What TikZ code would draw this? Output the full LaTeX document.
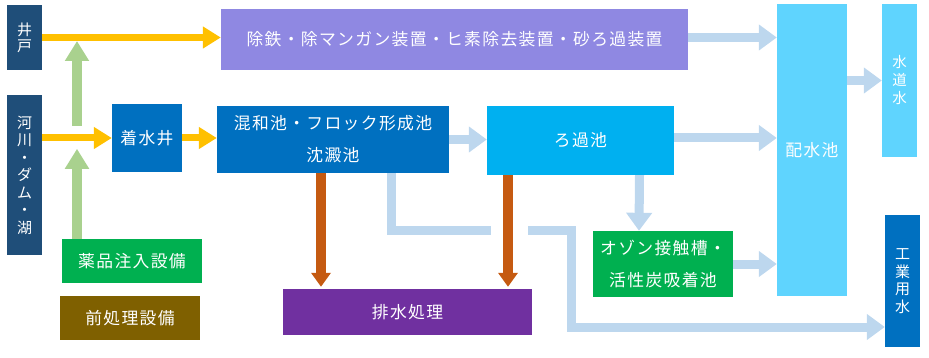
\documentclass[tikz,border=0pt]{standalone}
\usepackage{fontspec}
\setmainfont{Noto Sans CJK JP}[LetterSpace=8]
\usepackage{xcolor}
\usepackage{tikz}
\usetikzlibrary{arrows.meta}

\definecolor{sourceNavy}{HTML}{1F4E79}
\definecolor{ironLavender}{HTML}{8F88E2}
\definecolor{plantBlue}{HTML}{0070C0}
\definecolor{filterCyan}{HTML}{00B0F0}
\definecolor{storeCyan}{HTML}{5FD4FE}
\definecolor{chemGreen}{HTML}{00B050}
\definecolor{preBrown}{HTML}{7F6000}
\definecolor{drainPurple}{HTML}{7030A0}
\definecolor{feedYellow}{HTML}{FFC000}
\definecolor{doseGreen}{HTML}{A9D18E}
\definecolor{flowBlue}{HTML}{BDD7EE}
\definecolor{sludgeOrange}{HTML}{C55A11}

\begin{document}
\begin{tikzpicture}[
    x=1pt,
    y=-1pt,
    font=\fontsize{16.8}{32}\selectfont,
    unit/.style={
        rectangle,
        inner sep=0pt,
        text=white,
        align=center
    },
    stack/.style={
        unit,
        font=\fontsize{15}{17.5}\selectfont
    },
    feed/.style={
        -{Triangle[width=21pt,length=18pt]},
        line width=7pt,
        draw=feedYellow
    },
    dose/.style={
        -{Triangle[width=23pt,length=20pt]},
        line width=10pt,
        draw=doseGreen
    },
    waterflow/.style={
        -{Triangle[width=25pt,length=18pt]},
        line width=9pt,
        draw=flowBlue
    },
    pipe/.style={
        line width=9pt,
        draw=flowBlue
    },
    sludge/.style={
        -{Triangle[width=19pt,length=14pt]},
        line width=10pt,
        draw=sludgeOrange
    }
]
\useasboundingbox (0,0) rectangle (929,358);

% Sources
\node[stack, fill=sourceNavy, minimum width=35, minimum height=65,
    font=\fontsize{15}{16}\selectfont] (well) at (24.5,37.5) {井\\戸};
\node[stack, fill=sourceNavy, minimum width=35, minimum height=160] (river) at (24.5,175)
    {河\\川\\・\\ダ\\ム\\・\\湖};

% Chemicals
\node[unit, fill=chemGreen, minimum width=140, minimum height=44] (chemical) at (132,261) {薬品注入設備};
\node[unit, fill=preBrown, minimum width=140, minimum height=44] (pretreat) at (130,318) {前処理設備};

% Treatment line
\node[unit, fill=ironLavender, minimum width=467, minimum height=61] (ironbox) at (454.5,39.5)
    {除鉄・除マンガン装置・ヒ素除去装置・砂ろ過装置};
\node[unit, fill=plantBlue, minimum width=70, minimum height=68] (intake) at (147,138) {着水井};
\node[unit, fill=plantBlue, minimum width=232, minimum height=67] (mixing) at (333,139.5)
    {混和池・フロック形成池\\沈澱池};
\node[unit, fill=filterCyan, minimum width=187, minimum height=69] (filter) at (580.5,140.5) {ろ過池};
\node[unit, fill=chemGreen, minimum width=140, minimum height=66] (ozone) at (663,264)
    {オゾン接触槽・\\活性炭吸着池};
\node[unit, fill=drainPurple, minimum width=249, minimum height=46] (drainage) at (407.5,312) {排水処理};

% Outlets
\node[unit, fill=storeCyan, minimum width=70, minimum height=292] (reservoir) at (812,150) {配水池};
\node[stack, fill=storeCyan, minimum width=35, minimum height=153,
    font=\fontsize{14.5}{18}\selectfont] (tapwater) at (899.5,80.5) {水\\道\\水};
\node[stack, fill=plantBlue, minimum width=35, minimum height=132,
    font=\fontsize{15}{17.5}\selectfont] (industrial) at (902.5,281) {工\\業\\用\\水};

% Chemical dosing
\coordinate (doseUpper) at (77,126);
\draw[dose] (doseUpper) -- ++(0,-85);
\coordinate (doseLower) at ([xshift=-55pt]chemical.north);
\draw[dose] (doseLower) -- ++(0,-90);

% Raw water
\draw[feed] (well.east) -- (ironbox.west |- well.east);
\draw[feed] (river.east |- intake.west) -- (intake.west);
\draw[feed] (intake.east) -- (mixing.west |- intake.east);

% Treated water
\draw[waterflow] (ironbox.east |- well.east) -- (reservoir.west |- well.east);
\draw[waterflow] (mixing.east) -- (filter.west |- mixing.east);
\draw[waterflow] (filter.east |- intake.east) -- (reservoir.west |- intake.east);
\draw[waterflow] (reservoir.east |- tapwater.west) -- (tapwater.west);
\draw[waterflow] ([xshift=59pt]filter.south) -- ([xshift=-24pt]ozone.north);
\draw[waterflow] (ozone.east) -- (reservoir.west |- ozone.east);

% Sludge
\coordinate (sludgeA) at ([xshift=-12pt]mixing.south);
\coordinate (sludgeB) at ([xshift=-72.5pt]filter.south);
\draw[sludge] (sludgeA) -- ([yshift=2pt]sludgeA |- drainage.north);
\draw[sludge] (sludgeB) -- ([yshift=2pt]sludgeB |- drainage.north);

% Settled water to industrial use, jumping the sludge line
\coordinate (settledOut) at ([xshift=58pt]mixing.south);
\coordinate (jumpL) at (491,231);
\coordinate (jumpR) at (528,231);
\coordinate (bendDown) at (571,327);
\draw[pipe] (settledOut) |- (jumpL);
\draw[waterflow] (jumpR) -| (bendDown) -- (industrial.west |- bendDown);

\end{tikzpicture}
\end{document}
